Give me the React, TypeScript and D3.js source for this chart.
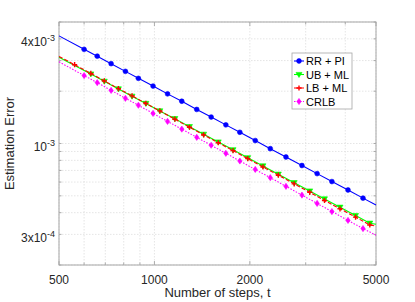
import { useEffect, useRef } from 'react'
import * as d3 from 'd3'

// steps (t) at which markers are drawn
const tBlue = [500, 600, 660, 730, 810, 890, 990, 1100, 1220, 1360, 1510, 1680, 1860, 2080, 2320, 2600, 2920, 3260, 3630, 4080, 4550, 5000]
const rrPi = [4.16e-3, 3.48e-3, 3.18e-3, 2.88e-3, 2.6e-3, 2.37e-3, 2.14e-3, 1.93e-3, 1.75e-3, 1.57e-3, 1.42e-3, 1.28e-3, 1.16e-3, 1.04e-3, 9.34e-4, 8.36e-4, 7.47e-4, 6.71e-4, 6.04e-4, 5.4e-4, 4.85e-4, 4.43e-4]

const tGreen = [500, 630, 695, 770, 850, 940, 1040, 1160, 1290, 1430, 1590, 1770, 1970, 2200, 2460, 2760, 3090, 3440, 3850, 4310, 4780, 5000]
const ubMl = [3.13e-3, 2.51e-3, 2.28e-3, 2.06e-3, 1.87e-3, 1.7e-3, 1.54e-3, 1.39e-3, 1.25e-3, 1.13e-3, 1.02e-3, 9.2e-4, 8.28e-4, 7.43e-4, 6.66e-4, 5.95e-4, 5.33e-4, 4.8e-4, 4.3e-4, 3.85e-4, 3.48e-4, 3.43e-4]

const tRed = [500, 560, 630, 695, 770, 850, 940, 1040, 1160, 1290, 1430, 1590, 1770, 1970, 2200, 2460, 2760, 3090, 3440, 3850, 4310, 4780, 5000]
const lbMl = [3.17e-3, 2.84e-3, 2.53e-3, 2.29e-3, 2.07e-3, 1.88e-3, 1.7e-3, 1.54e-3, 1.38e-3, 1.24e-3, 1.12e-3, 1.01e-3, 9.1e-4, 8.18e-4, 7.33e-4, 6.57e-4, 5.86e-4, 5.24e-4, 4.7e-4, 4.21e-4, 3.77e-4, 3.4e-4, 3.35e-4]

const crlb = [2.95e-3, 2.46e-3, 2.24e-3, 2.02e-3, 1.82e-3, 1.66e-3, 1.49e-3, 1.34e-3, 1.21e-3, 1.085e-3, 9.77e-4, 8.78e-4, 7.93e-4, 7.09e-4, 6.36e-4, 5.67e-4, 5.05e-4, 4.52e-4, 4.06e-4, 3.61e-4, 3.24e-4, 2.97e-4]

const xTickLabels = [500, 1000, 2000, 5000]
const xGrid = [500, 600, 700, 800, 900, 1000, 2000, 3000, 4000, 5000]
const yGrid = [2e-4, 3e-4, 4e-4, 5e-4, 6e-4, 7e-4, 8e-4, 9e-4, 1e-3, 2e-3, 3e-3, 4e-3, 5e-3]
const yTickLabels = [
  { v: 4e-3, base: '4x10', exp: '-3' },
  { v: 1e-3, base: '10', exp: '-3' },
  { v: 3e-4, base: '3x10', exp: '-4' },
]

const legendNames = ['RR + PI', 'UB + ML', 'LB + ML', 'CRLB']

export default function App() {
  const svgRef = useRef<SVGSVGElement>(null)
  const width = 415
  const height = 302

  useEffect(() => {
    const el = svgRef.current
    if (!el) return
    const svg = d3.select(el)
    svg.selectAll('*').remove()

    const left = 59, right = 376, top = 22, bottom = 265
    const x = d3.scaleLog().domain([500, 5000]).range([left, right])
    const y = d3.scaleLog().domain([2e-4, 5e-3]).range([bottom, top])
    const font = 'Liberation Sans, Arial, Helvetica, sans-serif'

    svg.append('rect').attr('width', width).attr('height', height).attr('fill', '#fff')

    // grid
    const grid = svg.append('g').attr('stroke', '#dedede').attr('stroke-width', 0.8).attr('stroke-dasharray', '1.5,1.5')
    xGrid.forEach(v => grid.append('line').attr('x1', x(v)).attr('x2', x(v)).attr('y1', top).attr('y2', bottom))
    yGrid.forEach(v => grid.append('line').attr('y1', y(v)).attr('y2', y(v)).attr('x1', left).attr('x2', right))

    // ticks
    const ticks = svg.append('g').attr('stroke', '#9a9a9a').attr('stroke-width', 0.8)
    xGrid.forEach(v => {
      const len = xTickLabels.includes(v) ? 4 : 2.5
      ticks.append('line').attr('x1', x(v)).attr('x2', x(v)).attr('y1', bottom).attr('y2', bottom - len)
      ticks.append('line').attr('x1', x(v)).attr('x2', x(v)).attr('y1', top).attr('y2', top + len)
    })
    yGrid.forEach(v => {
      const len = 2.5
      ticks.append('line').attr('y1', y(v)).attr('y2', y(v)).attr('x1', left).attr('x2', left + len)
      ticks.append('line').attr('y1', y(v)).attr('y2', y(v)).attr('x1', right).attr('x2', right - len)
    })

    // box
    svg.append('rect')
      .attr('x', left).attr('y', top).attr('width', right - left).attr('height', bottom - top)
      .attr('fill', 'none').attr('stroke', '#a6a6a6').attr('stroke-width', 1)

    // tick labels
    xTickLabels.forEach(v => {
      svg.append('text').attr('x', x(v)).attr('y', bottom + 18.5)
        .attr('text-anchor', 'middle').attr('font-family', font).attr('font-size', 12)
        .attr('fill', '#262626').text(v)
    })
    yTickLabels.forEach(d => {
      const t = svg.append('text').attr('x', 55).attr('y', y(d.v) + 7.5)
        .attr('text-anchor', 'end').attr('font-family', font).attr('font-size', 12).attr('fill', '#262626')
      t.append('tspan').text(d.base)
      t.append('tspan').attr('dy', -5).attr('font-size', 9).text(d.exp)
    })

    svg.append('text').attr('x', (left + right) / 2).attr('y', 297)
      .attr('text-anchor', 'middle').attr('font-family', font).attr('font-size', 13)
      .attr('fill', '#262626').text('Number of steps, t')
    svg.append('text').attr('transform', `translate(14,${(top + bottom) / 2}) rotate(-90)`)
      .attr('text-anchor', 'middle').attr('font-family', font).attr('font-size', 13)
      .attr('fill', '#262626').text('Estimation Error')

    const plot = svg.append('g')
    const line = d3.line<[number, number]>().x(d => x(d[0])).y(d => y(d[1]))

    const series = [
      { t: tBlue, v: rrPi, color: '#0000ff', dash: null, marker: 'circle' },
      { t: tGreen, v: ubMl, color: '#00ff00', dash: null, marker: 'tri' },
      { t: tRed, v: lbMl, color: '#ff0000', dash: '4,2', marker: 'plus' },
      { t: tBlue, v: crlb, color: '#ff00ff', dash: '1.5,1.5', marker: 'diamond' },
    ]

    const drawMarker = (g: any, kind: string, cx: number, cy: number, color: string) => {
      if (kind === 'circle') {
        g.append('circle').attr('cx', cx).attr('cy', cy).attr('r', 2.4).attr('fill', color).attr('stroke', color).attr('stroke-width', 0.6)
      } else if (kind === 'tri') {
        const s = 3
        g.append('path').attr('d', `M${cx - s},${cy - s * 0.7}L${cx + s},${cy - s * 0.7}L${cx},${cy + s}Z`).attr('fill', color).attr('stroke', color).attr('stroke-width', 0.6)
      } else if (kind === 'plus') {
        const s = 2.6
        g.append('path').attr('d', `M${cx - s},${cy}H${cx + s}M${cx},${cy - s}V${cy + s}`).attr('stroke', color).attr('stroke-width', 1.4)
      } else {
        const s = 3.1
        g.append('path').attr('d', `M${cx},${cy - s}L${cx + s * 0.7},${cy}L${cx},${cy + s}L${cx - s * 0.7},${cy}Z`).attr('fill', color).attr('stroke', color).attr('stroke-width', 0.6)
      }
    }

    series.forEach(s => {
      const pts = s.t.map((t, i) => [t, s.v[i]] as [number, number])
      plot.append('path').datum(pts).attr('d', line)
        .attr('fill', 'none').attr('stroke', s.color).attr('stroke-width', 1.1)
        .attr('stroke-dasharray', s.dash)
      const mg = plot.append('g')
      pts.slice(1, -1).forEach(p => drawMarker(mg, s.marker, x(p[0]), y(p[1]), s.color))
    })

    // legend
    const lx = 292, ly = 53, lw = 60, lh = 56
    const lg = svg.append('g')
    lg.append('rect').attr('x', lx).attr('y', ly).attr('width', lw).attr('height', lh)
      .attr('fill', '#fff').attr('stroke', '#a6a6a6').attr('stroke-width', 0.8)
    series.forEach((s, i) => {
      const ry = ly + 8 + i * 13.5
      lg.append('line').attr('x1', lx + 2).attr('x2', lx + 12).attr('y1', ry).attr('y2', ry)
        .attr('stroke', s.color).attr('stroke-width', 1.1).attr('stroke-dasharray', s.dash)
      drawMarker(lg, s.marker, lx + 7, ry, s.color)
      lg.append('text').attr('x', lx + 14).attr('y', ry + 4).attr('font-family', font)
        .attr('font-size', 11).attr('fill', '#000').text(legendNames[i])
    })
  }, [])

  return (
    <svg
      ref={svgRef}
      width={width}
      height={height}
      style={{ position: 'absolute', left: 0, top: 0, display: 'block' }}
    />
  )
}
